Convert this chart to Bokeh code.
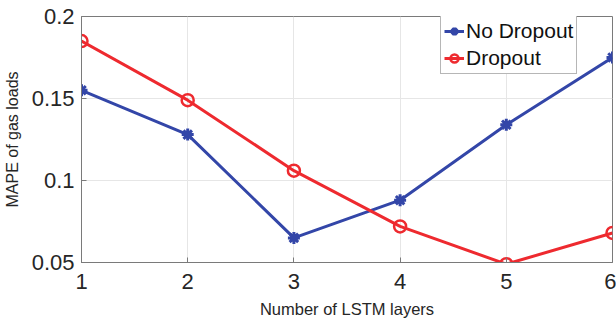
from bokeh.plotting import figure
from bokeh.models import Legend, LegendItem, Range1d, FixedTicker
from bokeh.embed import file_html
from bokeh.resources import INLINE

# MAPE versus number of LSTM layers
layers = [1, 2, 3, 4, 5, 6]
no_dropout = [0.155, 0.128, 0.065, 0.088, 0.134, 0.175]
dropout = [0.185, 0.149, 0.106, 0.072, 0.049, 0.068]
x_ticks = [1, 2, 3, 4, 5, 6]
y_ticks = [0.05, 0.1, 0.15, 0.2]

FONT = "Liberation Sans"
BLUE = "#3346a8"
RED = "#ee2a2f"
AXIS = "#7a7a7a"

p = figure(width=616, height=321, output_backend="svg", toolbar_location=None,
           x_range=Range1d(1, 6), y_range=Range1d(0.05, 0.2),
           min_border_left=81, min_border_right=4, min_border_top=16,
           min_border_bottom=59, outline_line_color=AXIS, outline_line_width=1)

for ax in (p.xaxis[0], p.yaxis[0]):
    ax.major_tick_in = 5
    ax.major_tick_out = 0
    ax.minor_tick_in = 0
    ax.minor_tick_out = 0
    ax.axis_line_color = AXIS
    ax.major_tick_line_color = AXIS
    ax.major_label_text_font = FONT
    ax.major_label_text_font_size = "22px"
    ax.major_label_text_color = "#262626"
    ax.axis_label_text_font = FONT
    ax.axis_label_text_font_style = "normal"
    ax.axis_label_text_color = "#262626"

p.xaxis.ticker = FixedTicker(ticks=x_ticks)
p.yaxis.ticker = FixedTicker(ticks=y_ticks)
p.xaxis.axis_label = "Number of LSTM layers"
p.yaxis.axis_label = "MAPE of gas loads"
p.xaxis.axis_label_text_font_size = "16.5px"
p.yaxis.axis_label_text_font_size = "16px"
p.xaxis.major_label_standoff = 11
p.yaxis.major_label_standoff = 7
p.xaxis.axis_label_standoff = 8
p.yaxis.axis_label_standoff = 8
p.xaxis.major_label_overrides = {t: str(t) for t in x_ticks}
p.yaxis.major_label_overrides = {t: ("%g" % t) for t in y_ticks}

p.xgrid.ticker = FixedTicker(ticks=x_ticks)
p.ygrid.ticker = FixedTicker(ticks=y_ticks)
p.grid.grid_line_color = "#e6e6e6"
p.grid.grid_line_width = 1

l1 = p.line(layers, no_dropout, line_color=BLUE, line_width=3)
m1 = p.scatter(layers, no_dropout, marker="asterisk", size=12,
               line_color=BLUE, line_width=3)
l2 = p.line(layers, dropout, line_color=RED, line_width=3)
m2 = p.scatter(layers, dropout, marker="circle", size=12, fill_color=None,
               line_color=RED, line_width=2.5)

# legend anchored by its lower-left corner, in pixels from the frame's lower-left
legend = Legend(items=[LegendItem(label="No Dropout", renderers=[l1, m1]),
                       LegendItem(label="Dropout", renderers=[l2, m2])],
                location=(359, 188), label_text_font=FONT,
                label_text_font_size="21px", label_text_color="#111111",
                border_line_color="#6e6e6e", border_line_width=1,
                background_fill_alpha=1.0, glyph_width=20, glyph_height=24,
                label_height=24, label_standoff=2, padding=3, spacing=3,
                margin=0)
p.add_layout(legend)

out = file_html(p, INLINE)
open("out.html", "w").write(out)
